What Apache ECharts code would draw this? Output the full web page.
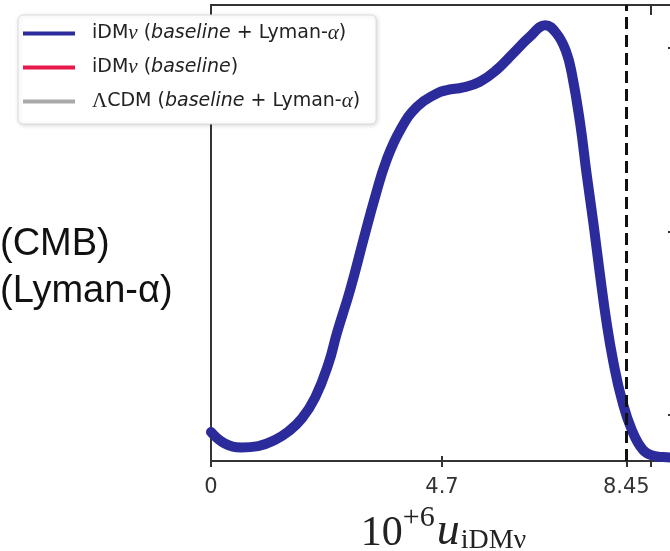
<!DOCTYPE html>
<html>
<head>
<meta charset="utf-8">
<script src="https://cdn.jsdelivr.net/npm/echarts@6/dist/echarts.min.js"></script>
<style>
  html, body { margin: 0; padding: 0; background: #fff; }
  #chart { width: 670px; height: 551px; }
</style>
</head>
<body>
<div id="chart"></div>
<script>
// posterior of u_iDMnu (peak normalised to ~1)
const uValues = [0, 0.28, 0.62, 0.96, 1.3, 1.57, 1.85, 2.12, 2.39, 2.56, 2.83, 3.1, 3.34, 3.57, 3.85, 4.19, 4.59, 4.8, 5.13, 5.47, 5.81, 6.15, 6.49, 6.8, 7.03, 7.22, 7.34, 7.51, 7.64, 7.78, 7.91, 8.05, 8.19, 8.36, 8.56, 8.79, 9.0, 9.2, 9.46];
const probBaseLya = [0.066, 0.04, 0.031, 0.034, 0.048, 0.067, 0.097, 0.145, 0.222, 0.291, 0.39, 0.504, 0.603, 0.686, 0.755, 0.808, 0.838, 0.846, 0.852, 0.865, 0.892, 0.93, 0.968, 0.994, 0.975, 0.935, 0.884, 0.77, 0.656, 0.542, 0.428, 0.314, 0.223, 0.139, 0.071, 0.025, 0.012, 0.009, 0.008];

const seriesNames = ['idmLya', 'idmBase', 'lcdmLya'];
const seriesColors = ['#2b2b9b', '#e8184a', '#aaaaaa'];
const legendTexts = {
  idmLya: 'iDM{g|ν} ({i|baseline} + Lyman-{g|α})',
  idmBase: 'iDM{g|ν} ({i|baseline})',
  lcdmLya: '{u|Λ}CDM ({i|baseline} + Lyman-{g|α})'
};

const xTickValues = [0, 4.7, 8.45, 8.94];
const xLabelValues = [0, 4.7, 8.45];
const topTickValues = [8.94];
const rightTickValues = [0.105, 0.522, 0.942];
const bound95 = 8.45;
const sideLabels = ['(CMB)', '(Lyman-α)'];

const chart = echarts.init(document.getElementById('chart'));

const axisLine = { show: true, onZero: false, lineStyle: { color: '#333', width: 2 } };
const serif = '"Liberation Serif", serif';

const option = {
  animation: false,
  backgroundColor: '#fff',
  grid: { left: 211, top: 5, width: 465, height: 456, outerBoundsMode: 'none', containLabel: false },
  graphic: sideLabels.map((t, i) => ({
    type: 'text', left: 0, top: 226 + i * 47,
    style: { text: t, font: '38px "Liberation Sans", Arial, sans-serif', fill: '#111' }
  })),
  legend: {
    orient: 'vertical', left: 18, top: 15,
    data: seriesNames,
    icon: 'rect', itemWidth: 52, itemHeight: 4, itemGap: 13,
    padding: [8, 16, 12, 5],
    backgroundColor: '#fff', borderColor: '#dcdcdc', borderWidth: 1, borderRadius: 5,
    shadowColor: 'rgba(0,0,0,0.15)', shadowBlur: 4, shadowOffsetX: 1, shadowOffsetY: 1,
    formatter: name => legendTexts[name],
    textStyle: {
      fontFamily: '"DejaVu Sans", sans-serif', fontSize: 19, color: '#222',
      padding: [0, 0, 0, 12],
      rich: {
        i: { fontFamily: '"DejaVu Sans", sans-serif', fontStyle: 'italic', fontSize: 19, color: '#222' },
        g: { fontFamily: serif, fontStyle: 'italic', fontSize: 21, color: '#222' },
        u: { fontFamily: serif, fontSize: 21, color: '#222' }
      }
    }
  },
  xAxis: [
    {
      type: 'value', position: 'bottom', min: 0, max: 9.46,
      axisLine: axisLine, splitLine: { show: false },
      axisTick: { show: true, inside: false, length: 6, customValues: xTickValues, lineStyle: { color: '#333', width: 2 } },
      axisLabel: {
        show: true, customValues: xLabelValues, margin: 16,
        fontFamily: '"DejaVu Sans", sans-serif', fontSize: 21, color: '#333',
        formatter: v => String(v)
      },
      name: '{n|10}{s|+6}{u|u}{b|iDMν}', nameLocation: 'middle', nameGap: 36,
      nameTextStyle: {
        rich: {
          n: { fontFamily: serif, fontSize: 42, color: '#222', verticalAlign: 'bottom', padding: [0, 0, 6, 0] },
          s: { fontFamily: serif, fontSize: 30, color: '#222', verticalAlign: 'bottom', padding: [0, 2, 28, 0] },
          u: { fontFamily: serif, fontStyle: 'italic', fontSize: 46, color: '#222', verticalAlign: 'bottom', padding: [0, 1, 6, 0] },
          b: { fontFamily: serif, fontSize: 28, color: '#222', verticalAlign: 'bottom', padding: [0, 0, 6, 0] }
        }
      }
    },
    {
      type: 'value', position: 'bottom', min: 0, max: 9.46,
      axisLine: { show: false, onZero: false }, splitLine: { show: false }, axisLabel: { show: false },
      axisTick: { show: true, inside: true, length: 5, customValues: xTickValues, lineStyle: { color: '#333', width: 2 } }
    },
    {
      type: 'value', position: 'top', min: 0, max: 9.46,
      axisLine: axisLine, splitLine: { show: false }, axisLabel: { show: false },
      axisTick: { show: true, inside: true, length: 10, customValues: topTickValues, lineStyle: { color: '#333', width: 2 } }
    }
  ],
  yAxis: [
    {
      type: 'value', position: 'left', min: 0, max: 1.04,
      axisLine: axisLine, splitLine: { show: false },
      axisTick: { show: false }, axisLabel: { show: false }
    },
    {
      type: 'value', position: 'right', min: 0, max: 1.04,
      axisLine: axisLine, splitLine: { show: false }, axisLabel: { show: false },
      axisTick: { show: true, inside: true, length: 8, customValues: rightTickValues, lineStyle: { color: '#333', width: 2 } }
    }
  ],
  series: [
    {
      name: seriesNames[0], type: 'line', color: seriesColors[0],
      data: uValues.map((u, i) => [u, probBaseLya[i]]),
      smooth: 0.45, showSymbol: false, clip: true,
      lineStyle: { width: 10, color: seriesColors[0], cap: 'round', join: 'round' },
      markLine: {
        silent: true, symbol: 'none', label: { show: false },
        lineStyle: { color: '#111', width: 3, type: [12, 6] },
        data: [{ xAxis: bound95 }]
      }
    },
    { name: seriesNames[1], type: 'line', color: seriesColors[1], data: [], lineStyle: { color: seriesColors[1] } },
    { name: seriesNames[2], type: 'line', color: seriesColors[2], data: [], lineStyle: { color: seriesColors[2] } }
  ]
};

chart.setOption(option);
</script>
</body>
</html>
